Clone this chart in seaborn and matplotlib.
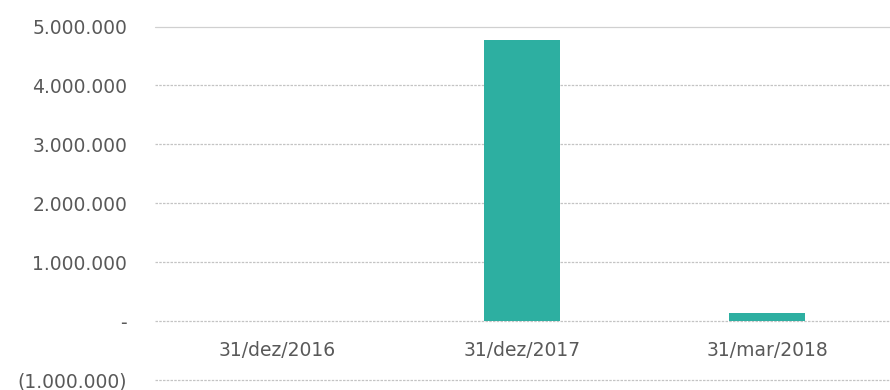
import matplotlib
matplotlib.use("Agg")
import matplotlib.pyplot as plt
import matplotlib.ticker as mticker
import seaborn as sns
import pandas as pd

# Saldo por data-base
datas = ["31/dez/2016", "31/dez/2017", "31/mar/2018"]
valores = [0, 4770000, 140000]
yticks = [-1000000, 0, 1000000, 2000000, 3000000, 4000000, 5000000]

sns.set_theme(style="white")
plt.rcParams["font.family"] = ["DejaVu Sans"]

df = pd.DataFrame({"data": datas, "valor": valores})

fig = plt.figure(figsize=(8.9, 3.9), dpi=100)
ax = fig.add_axes([0.174, 0.0256, 0.826, 0.9064])

sns.barplot(data=df, x="data", y="valor", color="#2DAFA1", width=0.31,
            saturation=1, ax=ax, zorder=3, linewidth=0)

ax.set_ylim(-1000000, 5000000)
ax.set_yticks(yticks)


def fmt(v, pos):
    if v == 0:
        return "-"
    s = f"{abs(int(v)):,}".replace(",", ".")
    return f"({s})" if v < 0 else s


ax.yaxis.set_major_formatter(mticker.FuncFormatter(fmt))
ax.set_xlabel("")
ax.set_ylabel("")

for side in ["left", "right", "top"]:
    ax.spines[side].set_visible(False)
ax.spines["bottom"].set_position(("data", 0))
ax.spines["bottom"].set_visible(False)

ax.grid(axis="y", color="#c4c4c4", linestyle=(0, (2, 1)), linewidth=0.9, zorder=0)
ax.set_axisbelow(True)
for gl in ax.get_ygridlines():
    gl.set_clip_on(False)
ax.get_ygridlines()[-1].set_linestyle("-")
ax.get_ygridlines()[-1].set_color("#d0d0d0")

ax.tick_params(axis="y", length=0, pad=20, labelsize=13.5, labelcolor="#595959")
ax.tick_params(axis="x", length=0, pad=14, labelsize=13.5, labelcolor="#595959")

fig.savefig("out.png", dpi=100)
